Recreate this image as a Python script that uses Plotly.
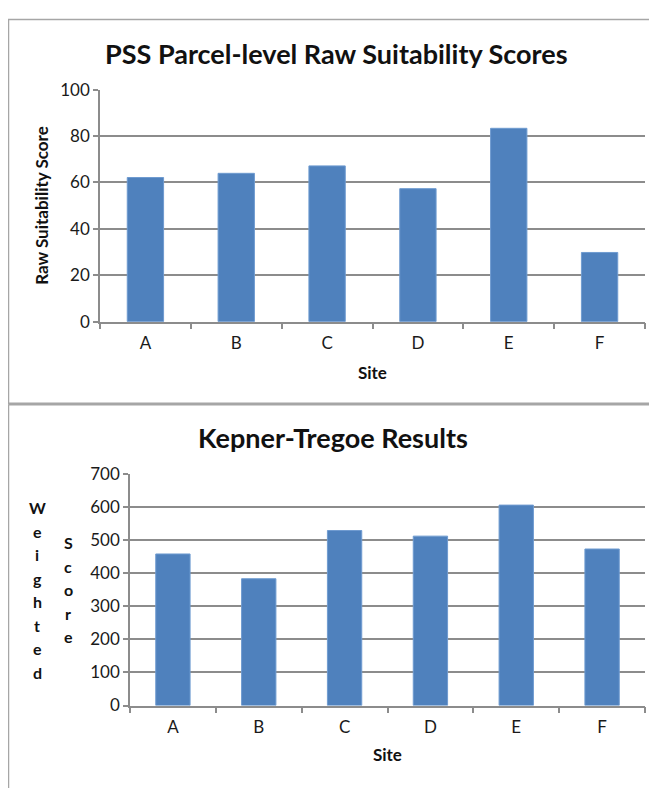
import plotly.graph_objects as go

# ---- data ----
sites = ["A", "B", "C", "D", "E", "F"]
raw_scores = [62.1, 63.9, 67.1, 57.3, 83.3, 29.8]
kt_scores = [459, 384, 530, 513, 607, 474]
raw_ticks = [0, 20, 40, 60, 80, 100]
kt_ticks = [0, 100, 200, 300, 400, 500, 600, 700]

top_title = "PSS Parcel-level Raw Suitability Scores"
bottom_title = "Kepner-Tregoe Results"
top_ytitle = "Raw Suitability Score"
xtitle = "Site"
kt_ytitle_words = ["Weighted", "Score"]

# ---- style / geometry (reference pixel coords; page puts the figure at 8px body margin) ----
PAGE_W, PAGE_H = 657, 796
OFF_X, OFF_Y = 8, 8
W, H = PAGE_W - 2 * OFF_X, PAGE_H - 2 * OFF_Y
FONT = "Lato"
BAR = "#4F81BD"
GRID = "#8c8c8c"
BORDER = "#a6a6a6"


def px(x):
    return (x - OFF_X) / W


def py(y):
    return 1 - (y - OFF_Y) / H


fig = go.Figure()
fig.add_trace(go.Bar(x=sites, y=raw_scores, width=0.4, marker=dict(color=BAR, line=dict(color="#6f9bd0", width=1)),
                     xaxis="x", yaxis="y", hoverinfo="x+y"))
fig.add_trace(go.Bar(x=sites, y=kt_scores, width=0.4, marker=dict(color=BAR, line=dict(color="#6f9bd0", width=1)),
                     xaxis="x2", yaxis="y2", hoverinfo="x+y"))

tickfont = dict(family=FONT, size=17, color="#1a1a1a")
common_x = dict(type="category", range=[-0.5, 5.5], showline=True, linecolor=GRID, linewidth=1.5,
                ticks="outside", tickson="boundaries", ticklen=6, tickcolor=GRID, tickwidth=1.5,
                tickfont=tickfont, showgrid=False, ticklabelstandoff=5, fixedrange=True)
common_y = dict(showline=True, linecolor=GRID, linewidth=1.5, ticks="outside", ticklen=5, tickcolor=GRID,
                tickwidth=1.5, showgrid=True, gridcolor=GRID, gridwidth=1.5, zeroline=False,
                tickfont=tickfont, fixedrange=True)

fig.update_layout(
    width=W, height=H,
    margin=dict(l=0, r=0, t=0, b=0),
    paper_bgcolor="white", plot_bgcolor="white",
    showlegend=False,
    font=dict(family=FONT, color="#1a1a1a"),
    xaxis=dict(domain=[px(100), px(645)], anchor="y", **common_x),
    yaxis=dict(domain=[py(319), py(80.5)], anchor="x", range=[0, 100], tickvals=raw_ticks, **common_y),
    xaxis2=dict(domain=[px(130), px(645)], anchor="y2", **common_x),
    yaxis2=dict(domain=[py(713.5), py(476)], anchor="x2", range=[0, 700], tickvals=kt_ticks, **common_y),
)


def label(text, x, y, size, angle=0):
    return dict(text=text, x=px(x), y=py(y), xref="paper", yref="paper", xanchor="center",
                yanchor="middle", textangle=angle, showarrow=False,
                font=dict(family=FONT, size=size, color="#111"))


ann = [
    label("<b>%s</b>" % top_title, 336, 43, 27),
    label("<b>%s</b>" % bottom_title, 333, 438, 27),
    label("<b>%s</b>" % top_ytitle, 42, 200, 17, -90),
    label("<b>%s</b>" % xtitle, 372, 371, 17),
    label("<b>%s</b>" % xtitle, 387, 764, 17),
]

# stacked vertical word labels for bottom y axis
word_pos = [(37, 510), (68, 546)]
for word, (wx, wy) in zip(kt_ytitle_words, word_pos):
    for i, ch in enumerate(word):
        ann.append(label("<b>%s</b>" % ch, wx, wy + 24.2 * i, 16))
fig.update_layout(annotations=ann)

shapes = [
    dict(type="rect", xref="paper", yref="paper", x0=px(8.5), x1=px(720), y0=py(8.5), y1=py(403),
         line=dict(color=BORDER, width=1.5)),
    dict(type="line", xref="paper", yref="paper", x0=px(8.5), x1=px(720), y0=py(404.5), y1=py(404.5),
         line=dict(color=BORDER, width=1.5)),
    dict(type="line", xref="paper", yref="paper", x0=px(8.5), x1=px(8.5), y0=py(404), y1=py(800),
         line=dict(color=BORDER, width=1.5)),
]
fig.update_layout(shapes=shapes)

fig.write_html("out.html")
